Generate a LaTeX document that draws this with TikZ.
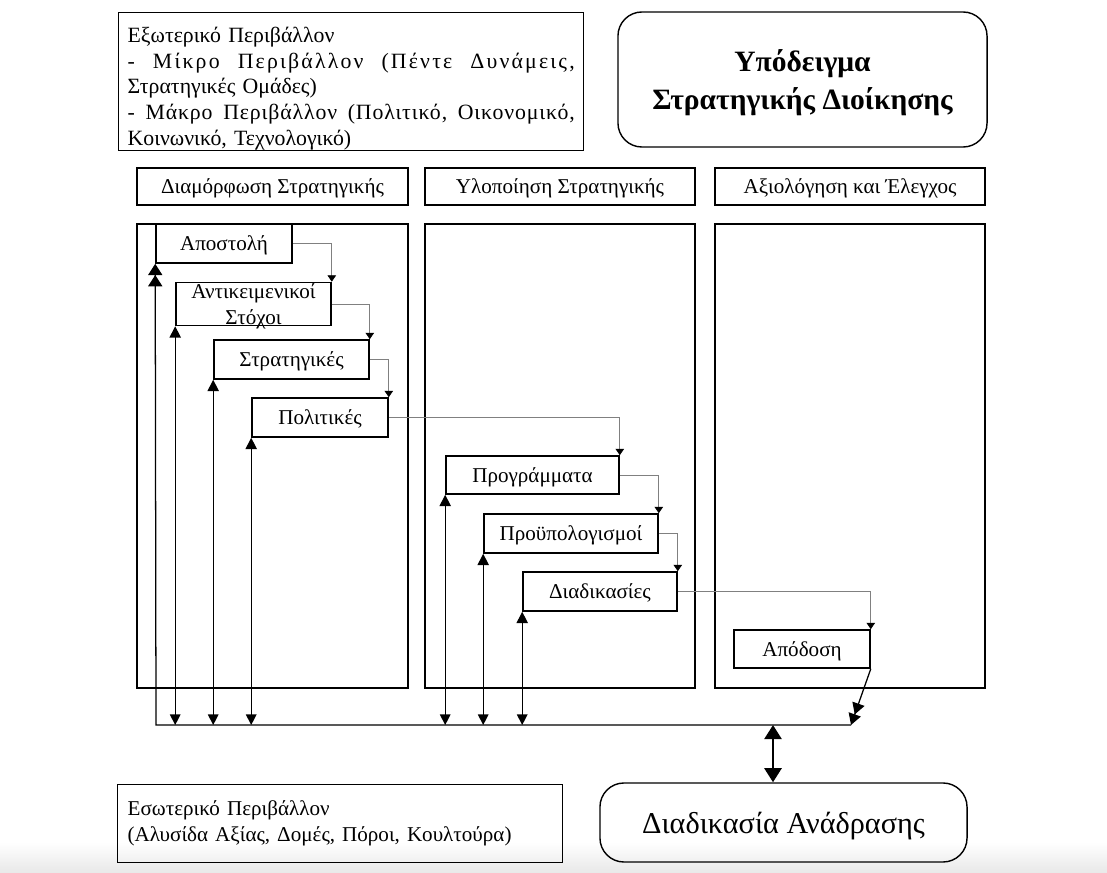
\documentclass[tikz,border=0pt]{standalone}
\usepackage{fontspec}
\setmainfont{Liberation Serif}
\usetikzlibrary{arrows.meta}
\newcommand{\txtsize}{\fontsize{15}{18.4}\selectfont}

\begin{document}
\begin{tikzpicture}[x=0.025cm, y=-0.025cm, font=\txtsize,
    panel/.style={draw, line width=1.5pt, inner sep=0pt, text depth=0pt},
    stepbox/.style={draw, line width=1.1pt, inner sep=0pt, minimum height=0.975cm, text depth=0pt},
    roundbox/.style={draw, line width=1pt, rounded corners=0.6cm, inner sep=0pt, text depth=0pt},
    flow/.style={draw=black!50, line width=0.5pt, -{Triangle[length=4.5pt, width=6pt, color=black]}},
    fb/.style={line width=0.9pt, {Triangle[length=8pt, width=8pt]}-{Triangle[length=7.5pt, width=7.5pt]}}]
  \useasboundingbox (0,0) rectangle (1107,873);
  % faint grey band at the bottom
  \shade[top color=white, bottom color=black!9] (0,842) rectangle (1107,873);

  % environment box and title
  \node[draw, line width=0.9pt, anchor=north west, minimum width=11.625cm,
        text width=11.175cm, inner xsep=0.225cm, inner ysep=0pt, align=left,
        font=\fontsize{15.5}{18.4}\selectfont] (external) at (118,12)
    {\rule{0pt}{21pt}Εξωτερικό Περιβάλλον\\
     \makebox[11.175cm][l]{\addfontfeatures{LetterSpace=10}-\hfill Μίκρο\hfill Περιβάλλον\hfill (Πέντε\hfill Δυνάμεις,}\\
     Στρατηγικές Ομάδες)\\
     \makebox[11.175cm][l]{\addfontfeatures{LetterSpace=4}-\hfill Μάκρο\hfill Περιβάλλον\hfill (Πολιτικό,\hfill Οικονομικό,}\\
     Κοινωνικό, Τεχνολογικό)\rule[-2pt]{0pt}{0pt}};
  \node[roundbox, minimum width=9.225cm, minimum height=3.375cm, align=center,
        font=\fontsize{21}{27}\selectfont\bfseries] (title) at (802.5,79.5) {Υπόδειγμα\\Στρατηγικής Διοίκησης};

  % three phases
  \node[panel, minimum width=6.775cm, minimum height=0.925cm] (head1) at (272.5,186.5) {Διαμόρφωση Στρατηγικής};
  \node[panel, minimum width=6.75cm, minimum height=0.925cm] (head2) at (560,186.5) {Υλοποίηση Στρατηγικής};
  \node[panel, minimum width=6.75cm, minimum height=0.925cm] (head3) at (850,186.5) {Αξιολόγηση και Έλεγχος};
  \node[panel, minimum width=6.775cm, minimum height=11.6cm] (phase1) at (272.5,456) {};
  \node[panel, minimum width=6.75cm, minimum height=11.6cm] (phase2) at (560,456) {};
  \node[panel, minimum width=6.75cm, minimum height=11.6cm] (phase3) at (850,456) {};

  % steps
  \node[stepbox, minimum width=3.4cm] (apostoli) at (224,243.5) {Αποστολή};
  \node[stepbox, minimum width=3.875cm, minimum height=1.075cm, align=center,
        font=\fontsize{15}{18}\selectfont] (stoxoi) at (253.5,304) {Αντικειμενικοί\\Στόχοι};
  \node[stepbox, minimum width=3.875cm] (strat) at (291.5,359.5) {Στρατηγικές};
  \node[stepbox, minimum width=3.4cm] (polit) at (320,417.5) {Πολιτικές};
  \node[stepbox, minimum width=4.325cm, minimum height=0.95cm] (progr) at (532.5,475) {Προγράμματα};
  \node[stepbox, minimum width=4.35cm] (proyp) at (571,533.5) {Προϋπολογισμοί};
  \node[stepbox, minimum width=3.85cm] (diad) at (600,591.5) {Διαδικασίες};
  \node[stepbox, minimum width=3.4cm, minimum height=0.95cm] (apodosi) at (802,649) {Απόδοση};

  % internal environment and feedback
  \node[draw, line width=0.9pt, anchor=north west, minimum width=11.125cm, minimum height=1.95cm,
        text width=10.625cm, inner xsep=0.25cm, align=left] (internal) at (117,784)
    {Εσωτερικό Περιβάλλον\\(Αλυσίδα Αξίας, Δομές, Πόροι, Κουλτούρα)};
  \node[roundbox, minimum width=9.175cm, minimum height=1.975cm,
        font=\fontsize{21.5}{25}\selectfont] (anadrasi) at (783.5,822.5) {Διαδικασία Ανάδρασης};

  % flow between the steps
  \draw[flow] (apostoli.east) -| (stoxoi.north east);
  \draw[flow] (stoxoi.east) -| (strat.north east);
  \draw[flow] (strat.east) -| (polit.north east);
  \draw[flow] (polit.east) -| (progr.north east);
  \draw[flow] (progr.east) -| (proyp.north east);
  \draw[flow] (proyp.east) -| (diad.north east);
  \draw[flow] (diad.east) -| (apodosi.north east);

  % feedback bus
  \coordinate (busL) at (156,725);
  \coordinate (busR) at (851,725);
  \coordinate (busM) at (773,725);
  \draw[line width=0.9pt, {Triangle[length=8pt, width=10pt] Triangle[length=8pt, width=10pt]}-]
    (apostoli.south west) -- (busL) -- (busR);
  \foreach \b in {stoxoi, strat, polit, progr, proyp, diad}
    \draw[fb] (\b.south west) -- (\b.south west |- busL);
  \draw[line width=0.9pt, -{Triangle[length=8pt, width=9pt] Triangle[length=8pt, width=9pt]}]
    (apodosi.south east) -- (busR);
  \draw[line width=2pt, {Triangle[length=10pt, width=12pt]}-{Triangle[length=10pt, width=12pt]}]
    (busM) -- (busM |- anadrasi.north);
\end{tikzpicture}
\end{document}
